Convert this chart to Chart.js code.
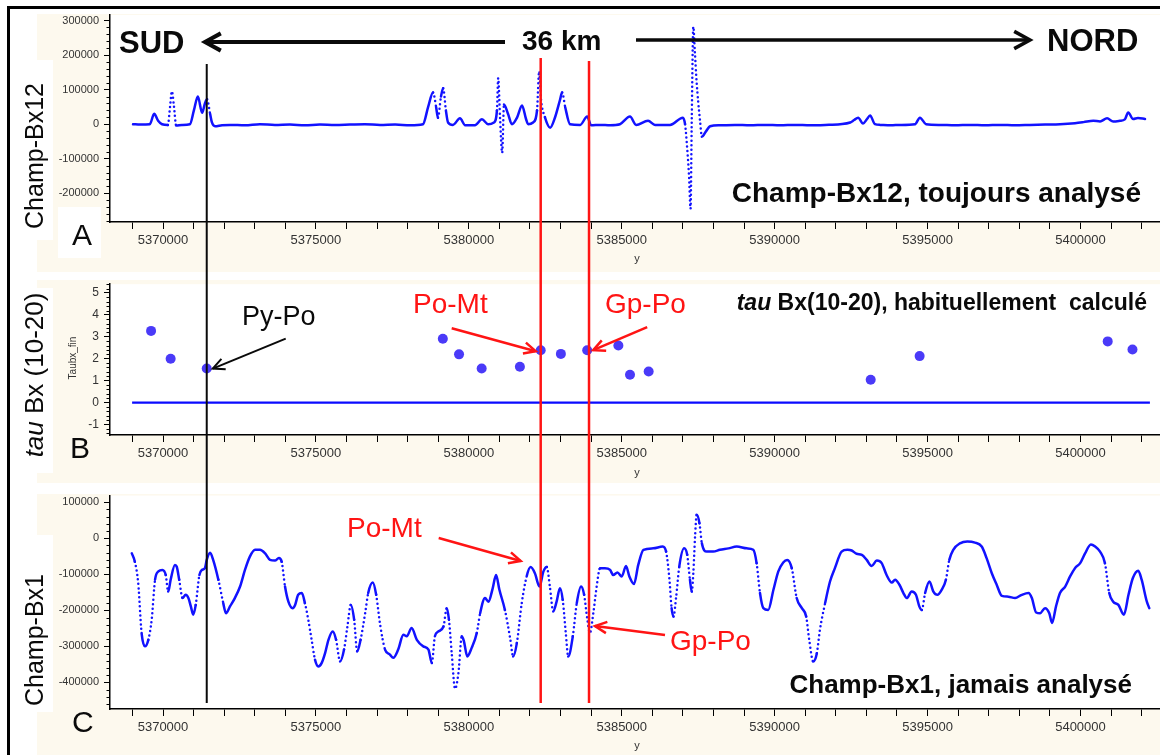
<!DOCTYPE html>
<html>
<head>
<meta charset="utf-8">
<script src="https://cdn.jsdelivr.net/npm/chart.js@4.4.1/dist/chart.umd.min.js"></script>
<style>
  html, body { margin: 0; padding: 0; background: #fff; width: 1160px; height: 755px; overflow: hidden; }
  canvas { position: absolute; left: 0; }
  #frame { position: absolute; left: 7px; top: 6px; width: 1170px; height: 770px; border-left: 3px solid #000; border-top: 3px solid #000; box-sizing: border-box; pointer-events: none; }
</style>
</head>
<body>
<canvas id="panelA" width="1160" height="272" style="top:0px"></canvas>
<canvas id="panelB" width="1160" height="212" style="top:272px"></canvas>
<canvas id="panelC" width="1160" height="271" style="top:484px"></canvas>
<div id="frame"></div>
<script>
// ---- Profile data (northing in metres) ----
const bx12North = [5369020, 5369250, 5369570, 5369710, 5369840, 5369970, 5370160, 5370230, 5370290, 5370360,
  5370430, 5370620, 5370880, 5371010, 5371140, 5371280, 5371370, 5371440, 5371540, 5371600,
  5371700, 5371930, 5372190, 5372680, 5373170, 5373660, 5374150, 5374640, 5375130, 5375620,
  5376110, 5376600, 5377100, 5377590, 5378080, 5378500, 5378670, 5378830, 5378930, 5378990,
  5379090, 5379160, 5379250, 5379320, 5379480, 5379710, 5379880, 5380200, 5380430, 5380630,
  5380820, 5380920, 5380960, 5381020, 5381090, 5381150, 5381280, 5381410, 5381580, 5381740,
  5381870, 5381940, 5382100, 5382230, 5382300, 5382360, 5382490, 5382660, 5382820, 5382980,
  5383050, 5383150, 5383310, 5383640, 5383870, 5384000, 5384290, 5384620, 5384940, 5385270,
  5385470, 5385860, 5386090, 5386580, 5387000, 5387070, 5387140, 5387200, 5387250, 5387290,
  5387340, 5387390, 5387450, 5387500, 5387560, 5387620, 5387760, 5387890, 5388210, 5388700,
  5389200, 5389690, 5390180, 5390670, 5391160, 5391650, 5392140, 5392470, 5392600, 5392730,
  5392890, 5393020, 5393120, 5393280, 5393450, 5393800, 5394100, 5394590, 5394750, 5394950,
  5395410, 5395900, 5396390, 5396880, 5397370, 5397860, 5398350, 5398840, 5399330, 5399820,
  5400100, 5400420, 5400640, 5400870, 5401070, 5401290, 5401450, 5401560, 5401720, 5401880, 5402110];
const bx12Field = [0, -1000, 0, 30000, 10000, 0, -2000, 50000, 95000, 50000,
  -4000, -2000, 0, 40000, 80000, 33000, 60000, 72000, 30000, 5000,
  -6000, -3000, -2000, -3000, 0, -2000, -1000, -3000, -1000, -2000,
  -1000, 0, -2000, -1000, -3000, 0, 50000, 92000, 50000, 19000,
  80000, 104000, 40000, 5000, -2000, 17000, -3000, -3000, 14000, 0,
  5000, 40000, 133000, 20000, -83000, 57000, 30000, 0, 20000, 54000,
  15000, 0, 5000, 40000, 153000, 72000, 20000, -10000, 20000, 70000,
  92000, 50000, 0, -2000, 22000, -3000, -2000, -3000, 0, 22000,
  -2000, 10000, -2000, -2000, 19000, 0, -70000, -150000, -245000, 20000,
  282000, 210000, 120000, 65000, 10000, -36000, -20000, -6000, -3000, -2000,
  -3000, -2000, -3000, -2000, -3000, -2000, 0, 5000, 12000, 19000,
  2000, 15000, 25000, 0, -2000, -3000, -2000, 0, 19000, 0,
  -2000, -3000, -2000, -3000, -2000, -3000, -2000, -1000, 0, 3000,
  6000, 10000, 8000, 17000, 8000, 10000, 14000, 34000, 15000, 18000, 15000];

const tauNorth = [5369610, 5370250, 5371430, 5379150, 5379680, 5380420, 5381670, 5382350, 5383010,
  5383870, 5384890, 5385270, 5385880, 5393140, 5394740, 5400890, 5401700];
const tauValue = [3.27, 2.0, 1.55, 2.91, 2.2, 1.55, 1.63, 2.39, 2.22, 2.39, 2.6, 1.27, 1.42, 1.04, 2.12, 2.79, 2.42];
const zeroLineNorth = [5368990, 5402270];
const zeroLineValue = [0, 0];

const bx1North = [5368980, 5369080, 5369190, 5369300, 5369410, 5369520, 5369630, 5369740, 5369850, 5369980,
  5370090, 5370170, 5370250, 5370390, 5370450, 5370530, 5370640, 5370740, 5370830, 5370910,
  5370990, 5371070, 5371190, 5371270, 5371370, 5371430, 5371540, 5371640, 5371810, 5371970,
  5372060, 5372190, 5372350, 5372520, 5372680, 5372840, 5373010, 5373170, 5373340, 5373500,
  5373660, 5373790, 5373880, 5373990, 5374100, 5374240, 5374320, 5374420, 5374540, 5374640,
  5374750, 5374860, 5374970, 5375080, 5375190, 5375300, 5375410, 5375550, 5375660, 5375790,
  5375920, 5376030, 5376140, 5376250, 5376350, 5376460, 5376610, 5376710, 5376860, 5376970,
  5377100, 5377260, 5377420, 5377530, 5377690, 5377860, 5377970, 5378130, 5378300, 5378510,
  5378680, 5378790, 5378890, 5379000, 5379170, 5379280, 5379350, 5379440, 5379550, 5379660,
  5379770, 5379840, 5379950, 5380090, 5380260, 5380370, 5380530, 5380640, 5380780, 5380890,
  5381000, 5381180, 5381350, 5381450, 5381570, 5381730, 5381890, 5382020, 5382160, 5382310,
  5382440, 5382550, 5382650, 5382760, 5382870, 5382980, 5383070, 5383170, 5383250, 5383400,
  5383530, 5383670, 5383770, 5383870, 5383960, 5384070, 5384180, 5384290, 5384450, 5384620,
  5384720, 5384860, 5385000, 5385140, 5385250, 5385400, 5385540, 5385710, 5386030, 5386340,
  5386450, 5386560, 5386630, 5386690, 5386780, 5386880, 5387040, 5387140, 5387230, 5387290,
  5387340, 5387400, 5387450, 5387540, 5387620, 5387780, 5387990, 5388210, 5388490, 5388760,
  5389090, 5389300, 5389410, 5389520, 5389630, 5389790, 5389960, 5390120, 5390280, 5390410,
  5390560, 5390720, 5390890, 5391030, 5391130, 5391260, 5391380, 5391480, 5391650, 5391810,
  5391970, 5392190, 5392380, 5392520, 5392680, 5392850, 5393010, 5393170, 5393340, 5393500,
  5393660, 5393830, 5393940, 5394080, 5394210, 5394320, 5394480, 5394620, 5394730, 5394810,
  5394920, 5395060, 5395190, 5395320, 5395460, 5395600, 5395710, 5395840, 5396060, 5396300,
  5396550, 5396770, 5396930, 5397100, 5397260, 5397430, 5397640, 5397860, 5398080, 5398300,
  5398410, 5398550, 5398680, 5398840, 5398980, 5399070, 5399200, 5399330, 5399500, 5399660,
  5399820, 5399990, 5400150, 5400340, 5400480, 5400640, 5400800, 5400940, 5401070, 5401240,
  5401420, 5401570, 5401710, 5401890, 5402000, 5402170, 5402250];
const bx1Field = [-42000, -65000, -125000, -263000, -300000, -282000, -226000, -115000, -92000, -88000,
  -102000, -148000, -115000, -74000, -79000, -115000, -166000, -157000, -166000, -189000,
  -212000, -185000, -102000, -88000, -83000, -60000, -40000, -60000, -115000, -180000,
  -208000, -189000, -166000, -134000, -88000, -51000, -32000, -32000, -42000, -60000,
  -62000, -55000, -65000, -134000, -176000, -194000, -185000, -157000, -152000, -180000,
  -226000, -282000, -337000, -356000, -346000, -319000, -282000, -259000, -282000, -342000,
  -309000, -245000, -185000, -226000, -314000, -282000, -208000, -152000, -123000, -157000,
  -240000, -309000, -323000, -332000, -309000, -268000, -272000, -249000, -282000, -300000,
  -309000, -346000, -272000, -259000, -245000, -194000, -226000, -319000, -418000, -374000,
  -272000, -286000, -328000, -305000, -263000, -208000, -166000, -176000, -139000, -102000,
  -143000, -199000, -277000, -328000, -291000, -180000, -106000, -80000, -97000, -134000,
  -92000, -80000, -134000, -203000, -176000, -139000, -171000, -263000, -328000, -272000,
  -180000, -134000, -157000, -222000, -263000, -208000, -134000, -83000, -83000, -88000,
  -102000, -95000, -106000, -77000, -106000, -127000, -74000, -32000, -28000, -23000,
  -37000, -115000, -194000, -217000, -162000, -79000, -28000, -46000, -115000, -148000,
  -97000, 9000, 65000, 42000, -14000, -37000, -37000, -32000, -28000, -23000,
  -28000, -32000, -69000, -152000, -194000, -199000, -143000, -92000, -67000, -60000,
  -83000, -166000, -194000, -217000, -282000, -342000, -319000, -254000, -180000, -120000,
  -83000, -37000, -32000, -34000, -43000, -46000, -60000, -77000, -62000, -69000,
  -102000, -123000, -115000, -129000, -152000, -166000, -148000, -157000, -189000, -199000,
  -152000, -120000, -148000, -157000, -143000, -115000, -60000, -32000, -14000, -9000,
  -12000, -23000, -55000, -97000, -129000, -160000, -162000, -166000, -157000, -152000,
  -166000, -206000, -208000, -194000, -208000, -235000, -189000, -152000, -134000, -106000,
  -83000, -69000, -42000, -17000, -23000, -37000, -69000, -152000, -176000, -185000,
  -212000, -157000, -111000, -90000, -115000, -176000, -194000];

// contacts marked across the three panels
const contactNames = ['Py-Po', 'Po-Mt', 'Gp-Po'];
const contactNorth = [5371430, 5382350, 5383930];

// axis ranges and tick steps
const northRange = [5368267, 5402600];
const northTickStep = 1000, northLabelStep = 5000;
const bx12Range = [-283000, 316000];
const tauRange = [-1.48, 5.40];
const bx1Range = [-474000, 118500];
const fieldTickStep = 100000, fieldMinorStep = 20000;
const tauTickStep = 1, tauMinorStep = 0.2;

// ---- styling ----
const FONT = '"Liberation Sans", Arial, Helvetica, sans-serif';
const CREAM = '#fdf9ee';
const LINE_BLUE = '#1212ff';
const DOT_BLUE = '#4a3af8';
const RED = '#ff1414';
const INK = '#0a0a0a';

const toXY = (xs, ys) => xs.map((x, i) => ({ x, y: ys[i] }));

// tick values at whole multiples of the step inside the axis range
function stepTicks(min, max, step) {
  const out = [];
  for (let n = Math.ceil(min / step - 1e-9); n * step <= max + 1e-9; n++) {
    out.push({ value: Math.round(n * step * 1e6) / 1e6 });
  }
  return out;
}

// steep stretches of a densely sampled profile show up as separate dots
const dottedWhenSteep = c => {
  const dx = Math.abs(c.p1.x - c.p0.x), dy = Math.abs(c.p1.y - c.p0.y);
  return (dy > 14 && dy > 4.5 * dx) ? [0, 4.5] : undefined;
};

function xAxis(axisHeight) {
  return {
    type: 'linear', min: northRange[0], max: northRange[1],
    border: { display: true, color: '#000', width: 1.5 },
    grid: { display: true, drawOnChartArea: false, drawTicks: true, tickLength: 7, tickColor: '#000', tickWidth: 1 },
    ticks: {
      autoSkip: false, maxRotation: 0, minRotation: 0,
      padding: 4, color: '#333', font: { family: FONT, size: 13 },
      callback: v => (Math.round(v) % northLabelStep === 0 ? String(Math.round(v)) : '')
    },
    afterBuildTicks: s => { s.ticks = stepTicks(s.min, s.max, northTickStep); },
    afterFit: s => { s.height = axisHeight; }
  };
}

function yAxis(range, step, fontSize) {
  return {
    type: 'linear', position: 'left', min: range[0], max: range[1],
    border: { display: true, color: '#000', width: 1.5 },
    grid: { display: true, drawOnChartArea: false, drawTicks: true, tickLength: 6, tickColor: '#000', tickWidth: 1 },
    ticks: {
      autoSkip: false, padding: 5, color: '#333', font: { family: FONT, size: fontSize },
      callback: v => String(Math.round(v * 1000) / 1000)
    },
    afterBuildTicks: s => { s.ticks = stepTicks(s.min, s.max, step); },
    afterFit: s => { s.width = 110; }
  };
}

// shorter unlabeled ticks between the labeled ones on the value axis
Chart.register({
  id: 'minorTicks',
  afterDraw(chart, args, o) {
    if (!o || !o.step) return;
    const s = chart.scales.y, a = chart.chartArea, ctx = chart.ctx;
    ctx.save();
    ctx.strokeStyle = '#000'; ctx.lineWidth = 1;
    for (let n = Math.ceil(s.min / o.step); n <= Math.floor(s.max / o.step); n++) {
      const v = n * o.step, r = v / o.major;
      if (Math.abs(r - Math.round(r)) < 1e-6) continue;
      const y = Math.round(s.getPixelForValue(v)) + 0.5;
      ctx.beginPath(); ctx.moveTo(a.left - 3.5, y); ctx.lineTo(a.left, y); ctx.stroke();
    }
    ctx.restore();
  }
});

// ---- drawing helpers ----
function spans(ctx, parts, x, y, align, color) {
  ctx.fillStyle = color; ctx.textBaseline = 'alphabetic'; ctx.textAlign = 'left';
  let w = 0;
  for (const p of parts) { ctx.font = p.f; w += ctx.measureText(p.t).width; }
  let cx = align === 'right' ? x - w : (align === 'center' ? x - w / 2 : x);
  for (const p of parts) { ctx.font = p.f; ctx.fillText(p.t, cx, y); cx += ctx.measureText(p.t).width; }
}
function vspans(ctx, parts, baseX, centerY, color) {
  ctx.save(); ctx.translate(baseX, centerY); ctx.rotate(-Math.PI / 2);
  spans(ctx, parts, 0, 0, 'center', color);
  ctx.restore();
}
function arrow(ctx, x0, y0, x1, y1, color, width, head, spread) {
  ctx.save();
  ctx.strokeStyle = color; ctx.lineWidth = width; ctx.lineCap = 'butt'; ctx.lineJoin = 'miter';
  ctx.beginPath(); ctx.moveTo(x0, y0); ctx.lineTo(x1, y1); ctx.stroke();
  const ang = Math.atan2(y1 - y0, x1 - x0);
  ctx.beginPath();
  ctx.moveTo(x1 - head * Math.cos(ang - spread), y1 - head * Math.sin(ang - spread));
  ctx.lineTo(x1, y1);
  ctx.lineTo(x1 - head * Math.cos(ang + spread), y1 - head * Math.sin(ang + spread));
  ctx.stroke();
  ctx.restore();
}
const f = (size, style) => (style ? style + ' ' : '') + size + 'px ' + FONT;

// vertical contact lines: page-space extent and look
const contactTop = [64, 58, 61], contactBottom = 703;
const contactColor = [INK, RED, RED], contactWidth = [2, 2.5, 2.5];
function contactLines(chart, offset) {
  const ctx = chart.ctx, xs = chart.scales.x;
  contactNorth.forEach((n, i) => {
    const x = xs.getPixelForValue(n);
    const y0 = Math.max(contactTop[i] - offset, 0), y1 = Math.min(contactBottom - offset, chart.height);
    ctx.save(); ctx.strokeStyle = contactColor[i]; ctx.lineWidth = contactWidth[i];
    ctx.beginPath(); ctx.moveTo(x, y0); ctx.lineTo(x, y1); ctx.stroke(); ctx.restore();
  });
}

// panel backdrop: cream frame, white plot area and white label boxes (page coordinates)
function backdrop(chart, offset, creamTop, creamBottom, boxes) {
  const ctx = chart.ctx, a = chart.chartArea;
  ctx.save();
  ctx.translate(0, -offset);
  ctx.fillStyle = CREAM;
  ctx.fillRect(37, creamTop, chart.width - 37, creamBottom - creamTop);
  ctx.fillStyle = '#fff';
  ctx.fillRect(a.left, a.top + offset, chart.width - a.left, a.bottom - a.top);
  for (const b of boxes) ctx.fillRect(b[0], b[1], b[2] - b[0], b[3] - b[1]);
  ctx.restore();
}

const baseOptions = () => ({
  responsive: false, maintainAspectRatio: false, animation: false, devicePixelRatio: 1, events: []
});

// ---- Panel A : Champ-Bx12 ----
const offA = 0;
new Chart(document.getElementById('panelA'), {
  type: 'line',
  data: { datasets: [{
    data: toXY(bx12North, bx12Field), borderColor: LINE_BLUE, borderWidth: 2.5, borderCapStyle: 'round',
    pointRadius: 0, pointHitRadius: 0, cubicInterpolationMode: 'monotone',
    segment: { borderDash: dottedWhenSteep }
  }] },
  options: Object.assign(baseOptions(), {
    layout: { autoPadding: false, padding: { top: 15, left: 0, right: 0, bottom: 0 } },
    scales: { x: xAxis(50), y: yAxis(bx12Range, fieldTickStep, 11) },
    plugins: { legend: { display: false }, tooltip: { enabled: false }, minorTicks: { step: fieldMinorStep, major: fieldTickStep } }
  }),
  plugins: [{
    id: 'panelA',
    beforeDraw(chart) { backdrop(chart, offA, 14, 272, [[10, 60, 53, 240], [58, 207, 101, 258]]); },
    afterDraw(chart) {
      const ctx = chart.ctx;
      contactLines(chart, offA);
      ctx.save(); ctx.translate(0, -offA);
      spans(ctx, [{ t: 'SUD', f: f(31, 'bold') }], 119, 53, 'left', INK);
      spans(ctx, [{ t: '36 km', f: f(28, 'bold') }], 522, 50, 'left', INK);
      spans(ctx, [{ t: 'NORD', f: f(31, 'bold') }], 1047, 51, 'left', INK);
      arrow(ctx, 505, 42, 205, 42, INK, 4, 18, 0.5);
      arrow(ctx, 636, 40, 1030, 40, INK, 3.5, 18, 0.5);
      spans(ctx, [{ t: 'Champ-Bx12, toujours analysé', f: f(28, 'bold') }], 1141, 202, 'right', INK);
      vspans(ctx, [{ t: 'Champ-Bx12', f: f(25) }], 43, 156, INK);
      spans(ctx, [{ t: 'A', f: f(30) }], 72, 245, 'left', INK);
      spans(ctx, [{ t: 'y', f: f(11) }], 637, 262, 'center', '#333');
      ctx.restore();
    }
  }]
});

// ---- Panel B : tau Bx(10-20) ----
const offB = 272;
new Chart(document.getElementById('panelB'), {
  type: 'scatter',
  data: { datasets: [
    { data: toXY(tauNorth, tauValue), backgroundColor: DOT_BLUE, borderColor: DOT_BLUE, pointRadius: 5, pointBorderWidth: 0, showLine: false },
    { data: toXY(zeroLineNorth, zeroLineValue), borderColor: '#0a0aff', borderWidth: 2.2, pointRadius: 0, showLine: true }
  ] },
  options: Object.assign(baseOptions(), {
    layout: { autoPadding: false, padding: { top: 9, left: 0, right: 0, bottom: 0 } },
    scales: { x: xAxis(49), y: yAxis(tauRange, tauTickStep, 12) },
    plugins: { legend: { display: false }, tooltip: { enabled: false }, minorTicks: { step: tauMinorStep, major: tauTickStep } }
  }),
  plugins: [{
    id: 'panelB',
    beforeDraw(chart) { backdrop(chart, offB, 280, 483, [[10, 288, 53, 473]]); },
    afterDraw(chart) {
      const ctx = chart.ctx, xs = chart.scales.x, ys = chart.scales.y;
      contactLines(chart, offB);
      // arrows pointing at the contact samples
      const pyX = xs.getPixelForValue(tauNorth[2]) + 6, pyY = ys.getPixelForValue(tauValue[2]);
      arrow(ctx, pyX + 73, pyY - 30, pyX, pyY, INK, 2, 13, 0.45);
      const pmX = xs.getPixelForValue(tauNorth[7]) - 5, pmY = ys.getPixelForValue(tauValue[7]) + 1;
      arrow(ctx, pmX - 84, pmY - 23, pmX, pmY, RED, 2.5, 13, 0.45);
      const gpX = xs.getPixelForValue(tauNorth[9]) + 6, gpY = ys.getPixelForValue(tauValue[9]);
      arrow(ctx, gpX + 54, gpY - 23, gpX, gpY, RED, 2.5, 13, 0.45);
      ctx.save(); ctx.translate(0, -offB);
      spans(ctx, [{ t: contactNames[0], f: f(27) }], 242, 325, 'left', INK);
      spans(ctx, [{ t: contactNames[1], f: f(28) }], 413, 313, 'left', RED);
      spans(ctx, [{ t: contactNames[2], f: f(28) }], 605, 313, 'left', RED);
      spans(ctx, [{ t: 'tau', f: f(23, 'italic bold') }, { t: ' Bx(10-20), habituellement  calculé', f: f(23, 'bold') }], 1147, 310, 'right', INK);
      vspans(ctx, [{ t: 'tau', f: f(26, 'italic') }, { t: ' Bx (10-20)', f: f(26) }], 43, 375, INK);
      vspans(ctx, [{ t: 'Taubx_fin', f: f(10) }], 76, 358, '#333');
      spans(ctx, [{ t: 'B', f: f(30) }], 70, 458, 'left', INK);
      spans(ctx, [{ t: 'y', f: f(11) }], 637, 476, 'center', '#333');
      ctx.restore();
    }
  }]
});

// ---- Panel C : Champ-Bx1 ----
const offC = 484;
new Chart(document.getElementById('panelC'), {
  type: 'line',
  data: { datasets: [{
    data: toXY(bx1North, bx1Field), borderColor: LINE_BLUE, borderWidth: 2.5, borderCapStyle: 'round',
    pointRadius: 0, pointHitRadius: 0, cubicInterpolationMode: 'monotone',
    segment: { borderDash: dottedWhenSteep }
  }] },
  options: Object.assign(baseOptions(), {
    layout: { autoPadding: false, padding: { top: 11, left: 0, right: 0, bottom: 0 } },
    scales: { x: xAxis(46), y: yAxis(bx1Range, fieldTickStep, 11) },
    plugins: { legend: { display: false }, tooltip: { enabled: false }, minorTicks: { step: fieldMinorStep, major: fieldTickStep } }
  }),
  plugins: [{
    id: 'panelC',
    beforeDraw(chart) { backdrop(chart, offC, 494, 755, [[10, 535, 53, 712]]); },
    afterDraw(chart) {
      const ctx = chart.ctx, xs = chart.scales.x;
      contactLines(chart, offC);
      const pmX = xs.getPixelForValue(contactNorth[1]) - 20, gpX = xs.getPixelForValue(contactNorth[2]) + 6;
      ctx.save(); ctx.translate(0, -offC);
      arrow(ctx, pmX - 82, 538, pmX, 561, RED, 2.5, 13, 0.45);
      arrow(ctx, gpX + 70, 635, gpX, 626, RED, 2.5, 13, 0.45);
      spans(ctx, [{ t: contactNames[1], f: f(28) }], 347, 537, 'left', RED);
      spans(ctx, [{ t: contactNames[2], f: f(28) }], 670, 650, 'left', RED);
      spans(ctx, [{ t: 'Champ-Bx1, jamais analysé', f: f(26, 'bold') }], 1132, 693, 'right', INK);
      vspans(ctx, [{ t: 'Champ-Bx1', f: f(25) }], 43, 640, INK);
      spans(ctx, [{ t: 'C', f: f(30) }], 72, 732, 'left', INK);
      spans(ctx, [{ t: 'y', f: f(11) }], 637, 749, 'center', '#333');
      ctx.restore();
    }
  }]
});
</script>
</body>
</html>
